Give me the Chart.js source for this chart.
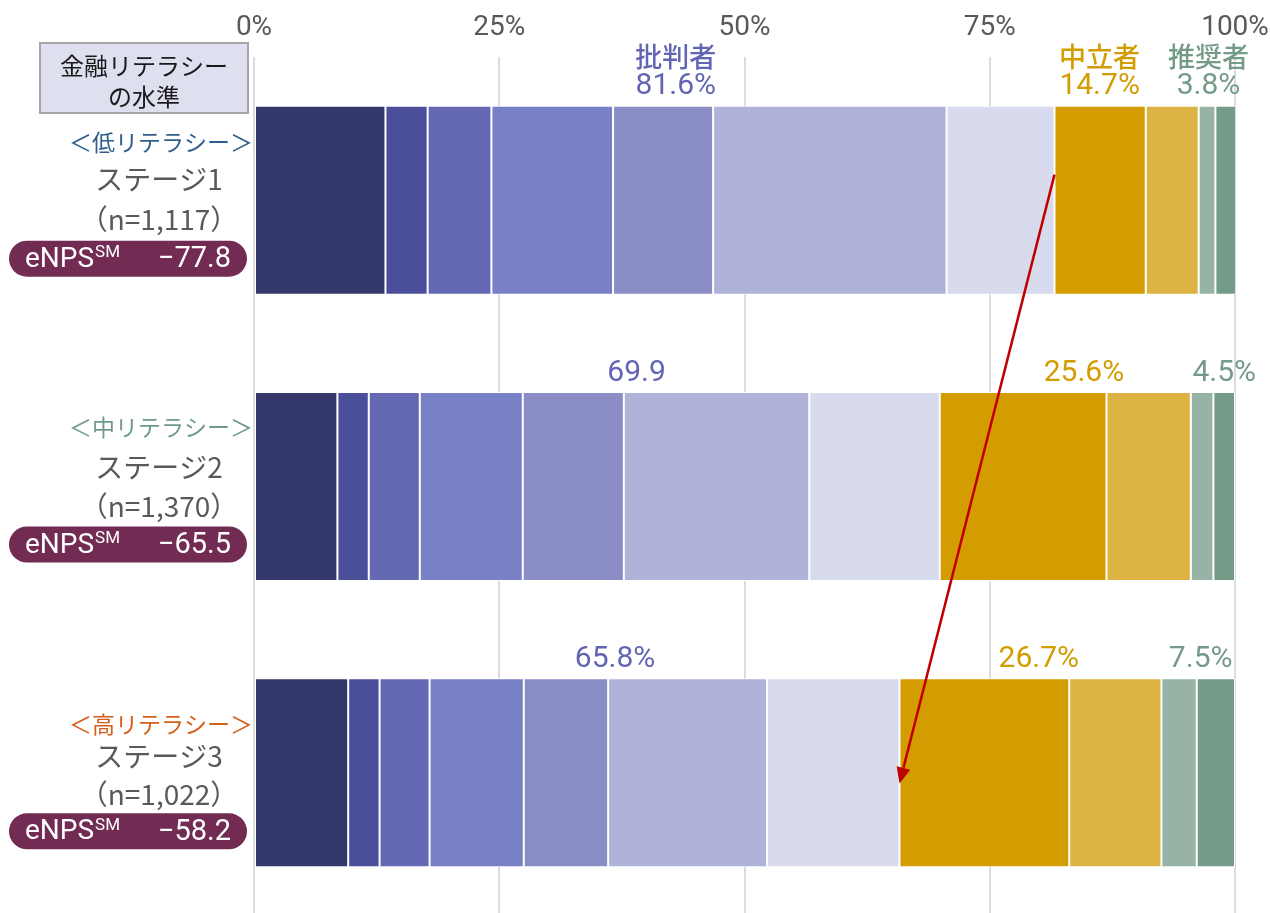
<!DOCTYPE html>
<html>
<head>
<meta charset="utf-8">
<title>金融リテラシーの水準別 eNPS</title>
<script src="https://cdn.jsdelivr.net/npm/chart.js@4.4.1/dist/chart.umd.min.js"></script>
<style>
  html, body { margin: 0; padding: 0; background: #ffffff; overflow: hidden; }
  #wrap { position: relative; width: 1270px; height: 916px; }
</style>
</head>
<body>
<div id="wrap"><canvas id="chart" width="1270" height="916"></canvas></div>
<script>
// ---- data ----
const stages = ['ステージ1', 'ステージ2', 'ステージ3'];
const literacyLevels = ['＜低リテラシー＞', '＜中リテラシー＞', '＜高リテラシー＞'];
const sampleSizes = ['（n=1,117）', '（n=1,370）', '（n=1,022）'];
const enpsScores = ['−77.8', '−65.5', '−58.2'];
const scoreLabels = ['0', '1', '2', '3', '4', '5', '6', '7', '8', '9', '10'];
// share of respondents giving each score 0–10 (%)
const stage1Shares = [13.4, 4.3, 6.5, 12.4, 10.2, 23.8, 11.0, 9.3, 5.4, 1.7, 2.1];
const stage2Shares = [8.5, 3.2, 5.2, 10.5, 10.3, 18.9, 13.3, 17.0, 8.6, 2.3, 2.2];
const stage3Shares = [9.6, 3.2, 5.1, 9.6, 8.6, 16.2, 13.5, 17.3, 9.4, 3.6, 3.9];
const groupNames = ['批判者', '中立者', '推奨者'];
const xTickValues = [0, 25, 50, 75, 100];

// ---- styling ----
const shares = [stage1Shares, stage2Shares, stage3Shares];
const segmentColors = ['#35386a', '#4b4f99', '#6568b2', '#7880c6', '#8a8dc6', '#b0b3d9',
                       '#d8daed', '#d39c00', '#ddb443', '#96b3a5', '#739b87'];
const groupColors = ['#6265b3', '#d39c00', '#739b87'];
const groupRanges = [[0, 7], [7, 9], [9, 11]];       // detractors 0–6, passives 7–8, promoters 9–10
const literacyColors = ['#2f5d8c', '#6f9b87', '#d2601a'];
const groupLabelX = [[43.0, 86.2, 97.3], [39.0, 84.6, 98.9], [36.8, 80.0, 96.5]]; // axis units
const valueSuffix = ['%', '', '%'];                    // row 2 detractor total is shown bare
const rowOffsets = { literacy: [-57.5, -59, -49], stage: [-21, -19.5, -16], n: [19.5, 20, 22], pill: [58.5, 58, 58.5] };
const CJK = '"Noto Sans CJK JP"';

const sum = (arr, a, b) => arr.slice(a, b).reduce((s, v) => s + v, 0);

const datasets = scoreLabels.map((score, k) => ({
  label: score,
  data: shares.map(row => row[k]),
  backgroundColor: segmentColors[k],
  borderColor: '#ffffff',
  borderWidth: 1,
  borderSkipped: false,
  categoryPercentage: 1,
  barPercentage: 0.66
}));

function roundRect(ctx, x, y, w, h, r) {
  ctx.beginPath();
  ctx.moveTo(x + r, y);
  ctx.lineTo(x + w - r, y);
  ctx.arc(x + w - r, y + r, r, -Math.PI / 2, Math.PI / 2);
  ctx.lineTo(x + r, y + h);
  ctx.arc(x + r, y + r, r, Math.PI / 2, Math.PI * 1.5);
  ctx.closePath();
}

const annotations = {
  id: 'annotations',
  afterDatasetsDraw(chart) {
    const ctx = chart.ctx;
    const xs = chart.scales.x;
    const bars = chart.getDatasetMeta(0).data;
    ctx.save();

    // heading box
    ctx.fillStyle = '#dfe0ef';
    ctx.fillRect(40, 43, 208, 70);
    ctx.strokeStyle = '#a6a6a6';
    ctx.lineWidth = 2;
    ctx.strokeRect(40, 43, 208, 70);
    ctx.fillStyle = '#1a1a1a';
    ctx.font = '24px ' + CJK;
    ctx.textAlign = 'center';
    ctx.textBaseline = 'middle';
    ctx.fillText('金融リテラシー', 144, 66);
    ctx.fillText('の水準', 144, 97);

    stages.forEach((stage, i) => {
      const bar = bars[i];
      const cy = bar.y;
      const top = bar.y - bar.height / 2;

      // row captions
      ctx.textAlign = 'center';
      ctx.textBaseline = 'middle';
      ctx.fillStyle = literacyColors[i];
      ctx.font = '23px ' + CJK;
      ctx.fillText(literacyLevels[i], 161, cy + rowOffsets.literacy[i]);
      ctx.fillStyle = '#595959';
      ctx.font = '28px ' + CJK;
      ctx.fillText(stage, 159, cy + rowOffsets.stage[i]);
      ctx.fillText(sampleSizes[i], 159, cy + rowOffsets.n[i]);

      // eNPS pill
      const py = cy + rowOffsets.pill[i];
      ctx.fillStyle = '#722b52';
      roundRect(ctx, 9, py - 18, 238, 36, 18);
      ctx.fill();
      ctx.fillStyle = '#ffffff';
      ctx.textAlign = 'left';
      ctx.font = '28px Roboto';
      ctx.fillText('eNPS', 25, py + 1);
      const w = ctx.measureText('eNPS').width;
      ctx.font = '17px Roboto';
      ctx.fillText('SM', 25 + w + 1, py - 6);
      ctx.textAlign = 'right';
      ctx.font = '29px Roboto';
      ctx.fillText(enpsScores[i], 231, py + 1);

      // group totals above each bar
      groupRanges.forEach(([a, b], g) => {
        const total = sum(shares[i], a, b);
        const x = xs.getPixelForValue(groupLabelX[i][g]);
        ctx.fillStyle = groupColors[g];
        ctx.textAlign = 'center';
        ctx.textBaseline = 'middle';
        if (i === 0) {
          ctx.font = '500 27px ' + CJK;
          ctx.fillText(groupNames[g], x, top - 49);
        }
        ctx.font = '30px Roboto';
        const suffix = g === 0 ? valueSuffix[i] : '%';
        ctx.fillText(total.toFixed(1) + suffix, x, top - 19);
      });
    });

    // arrow: detractor boundary of stage 1 to that of stage 3
    const b0 = bars[0], b2 = bars[2];
    const x1 = xs.getPixelForValue(sum(stage1Shares, 0, 7));
    const y1 = b0.y - b0.height / 2 + b0.height * 0.365;
    const x2 = xs.getPixelForValue(sum(stage3Shares, 0, 7));
    const y2 = b2.y - b2.height / 2 + b2.height * 0.556;
    const ang = Math.atan2(y2 - y1, x2 - x1);
    const headLen = 16, headHalf = 7;
    const bx = x2 - headLen * Math.cos(ang), by = y2 - headLen * Math.sin(ang);
    ctx.strokeStyle = '#c00000';
    ctx.fillStyle = '#c00000';
    ctx.lineWidth = 2.5;
    ctx.beginPath();
    ctx.moveTo(x1, y1);
    ctx.lineTo(bx, by);
    ctx.stroke();
    ctx.beginPath();
    ctx.moveTo(x2, y2);
    ctx.lineTo(bx + headHalf * Math.sin(ang), by - headHalf * Math.cos(ang));
    ctx.lineTo(bx - headHalf * Math.sin(ang), by + headHalf * Math.cos(ang));
    ctx.closePath();
    ctx.fill();

    ctx.restore();
  }
};

new Chart(document.getElementById('chart'), {
  type: 'bar',
  data: { labels: stages, datasets },
  options: {
    indexAxis: 'y',
    responsive: false,
    animation: false,
    devicePixelRatio: 1,
    layout: { padding: { left: 254, right: 35, top: 0, bottom: 0 } },
    plugins: { legend: { display: false }, tooltip: { enabled: false } },
    scales: {
      x: {
        position: 'top',
        stacked: true,
        min: 0,
        max: 100,
        afterBuildTicks: s => { s.ticks = xTickValues.map(v => ({ value: v })); },
        afterFit: s => { s.height = 57; s.paddingLeft = 0; s.paddingRight = 0; },
        ticks: {
          callback: v => v + '%',
          color: '#595959',
          font: { family: 'Roboto', size: 28 },
          padding: 12,
          maxRotation: 0,
          autoSkip: false
        },
        grid: { color: '#dcdcdc', lineWidth: 2, drawTicks: false },
        border: { display: false }
      },
      y: { stacked: true, display: false }
    }
  },
  plugins: [annotations]
});
</script>
</body>
</html>
